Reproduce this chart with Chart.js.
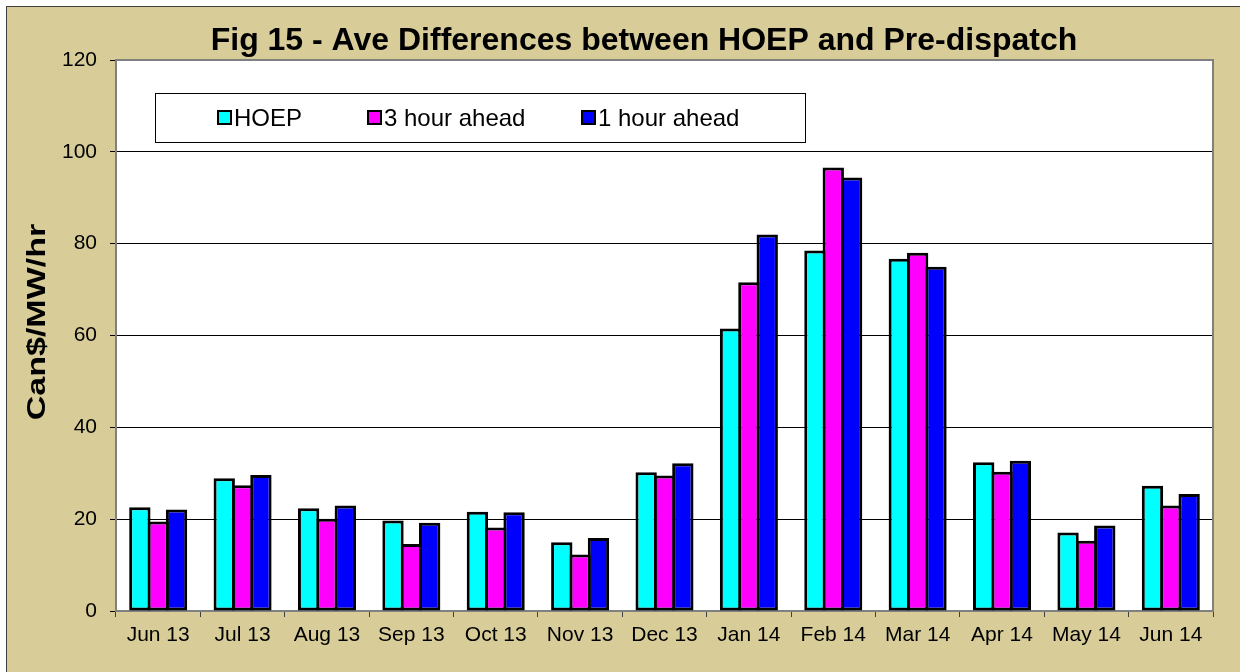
<!DOCTYPE html>
<html>
<head>
<meta charset="utf-8">
<title>Fig 15 - Ave Differences between HOEP and Pre-dispatch</title>
<script src="https://cdn.jsdelivr.net/npm/chart.js@4/dist/chart.umd.min.js"></script>
<style>
  html, body { margin: 0; padding: 0; background: #fff; }
  canvas { display: block; }
</style>
</head>
<body>
<canvas id="fig15" width="1240" height="672"></canvas>
<script>
// Data (Can$/MW/hr)
const months = ['Jun 13', 'Jul 13', 'Aug 13', 'Sep 13', 'Oct 13', 'Nov 13', 'Dec 13',
                'Jan 14', 'Feb 14', 'Mar 14', 'Apr 14', 'May 14', 'Jun 14'];
const hoep      = [22.6, 28.9, 22.4, 19.7, 21.6, 15.0, 30.2, 61.5, 78.5, 76.7, 32.4, 17.1, 27.3];
const threeHour = [19.5, 27.4, 20.1, 14.6, 18.2, 12.3, 29.5, 71.6, 96.6, 78.0, 30.3, 15.3, 23.0];
const oneHour   = [22.1, 29.6, 23.0, 19.2, 21.5, 15.9, 32.2, 82.0, 94.4, 75.0, 32.7, 18.6, 25.5];
const yMin = 0, yMax = 120, yStep = 20;

const TITLE = 'Fig 15 - Ave Differences between HOEP and Pre-dispatch';
const Y_TITLE = 'Can$/MW/hr';
const FONT = '"Liberation Sans", Arial, sans-serif';
const TAN = '#D8CD99';

// Backgrounds, frame, title, axis title and legend box
const decorPlugin = {
    id: 'decor',
    beforeDraw(chart) {
        const { ctx, chartArea: a } = chart;
        ctx.save();
        ctx.fillStyle = '#fff';
        ctx.fillRect(0, 0, chart.width, chart.height);
        ctx.fillStyle = TAN;
        ctx.fillRect(6, 6, chart.width, chart.height);
        ctx.strokeStyle = '#404040';
        ctx.lineWidth = 1;
        ctx.strokeRect(6.5, 6.5, chart.width + 10, chart.height + 10);
        ctx.fillStyle = '#fff';
        ctx.fillRect(a.left, a.top, a.right - a.left, a.bottom - a.top);
        ctx.restore();
    },
    beforeDatasetsDraw(chart) {
        const { ctx, chartArea: a } = chart;
        ctx.save();
        ctx.strokeStyle = '#808080';
        ctx.lineWidth = 2;
        ctx.beginPath();
        ctx.moveTo(a.left, a.top);
        ctx.lineTo(a.right, a.top);
        ctx.lineTo(a.right, a.bottom);
        ctx.stroke();
        ctx.restore();
    },
    afterDraw(chart) {
        const { ctx } = chart;
        ctx.save();
        ctx.fillStyle = '#000';

        // chart title
        ctx.font = 'bold 32px ' + FONT;
        ctx.textAlign = 'center';
        ctx.textBaseline = 'alphabetic';
        ctx.fillText(TITLE, 644, 50);

        // y axis title (stretched along its length like the original)
        ctx.save();
        ctx.translate(45, 322);
        ctx.rotate(-Math.PI / 2);
        ctx.scale(1.36, 1);
        ctx.font = 'bold 25px ' + FONT;
        ctx.fillText(Y_TITLE, 0, 0);
        ctx.restore();

        // legend box inside the plot
        ctx.fillStyle = '#fff';
        ctx.fillRect(155, 93, 650, 49);
        ctx.strokeStyle = '#000';
        ctx.lineWidth = 1;
        ctx.strokeRect(155.5, 93.5, 650, 49);

        const boxX = [218, 368, 582];
        ctx.font = '24px ' + FONT;
        ctx.textAlign = 'left';
        chart.data.datasets.forEach((ds, i) => {
            ctx.fillStyle = ds.backgroundColor;
            ctx.fillRect(boxX[i], 111, 13, 13);
            ctx.lineWidth = 2;
            ctx.strokeStyle = '#000';
            ctx.strokeRect(boxX[i], 111, 13, 13);
            ctx.fillStyle = '#000';
            ctx.fillText(ds.label, boxX[i] + 16, 126);
        });
        ctx.restore();
    }
};

function makeChart() {
    const ctx = document.getElementById('fig15');
    const barStyle = { borderColor: '#000', borderWidth: 3, borderSkipped: false };

    return new Chart(ctx, {
        type: 'bar',
        data: {
            labels: months,
            datasets: [
                { label: 'HOEP', data: hoep, backgroundColor: '#00FFFF', ...barStyle },
                { label: '3 hour ahead', data: threeHour, backgroundColor: '#FF00FF', ...barStyle },
                { label: '1 hour ahead', data: oneHour, backgroundColor: '#0000FF', ...barStyle }
            ]
        },
        options: {
            responsive: false,
            animation: false,
            devicePixelRatio: 1,
            categoryPercentage: 0.652,
            barPercentage: 1.164,
            layout: { padding: { top: 60, right: 27, bottom: 0, left: 0 } },
            plugins: {
                legend: { display: false },
                title: { display: false },
                tooltip: { enabled: false }
            },
            scales: {
                x: {
                    grid: { drawOnChartArea: false, drawTicks: true, tickLength: 6, color: '#404040', offset: true },
                    border: { color: '#808080', width: 2 },
                    ticks: { color: '#000', font: { family: FONT, size: 21 }, padding: 6, maxRotation: 0, autoSkip: false },
                    afterFit: s => { s.height = 61; }
                },
                y: {
                    min: yMin,
                    max: yMax,
                    grid: { color: '#000', lineWidth: 1, tickLength: 6 },
                    border: { color: '#808080', width: 2 },
                    ticks: { stepSize: yStep, color: '#000', font: { family: FONT, size: 21 }, padding: 13 },
                    afterFit: s => { s.width = 116; }
                }
            }
        },
        plugins: [decorPlugin]
    });
}

makeChart();
</script>
</body>
</html>
